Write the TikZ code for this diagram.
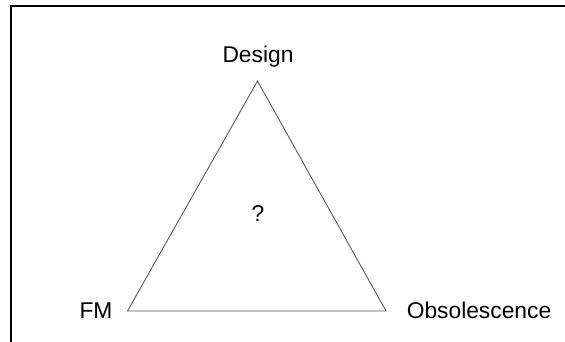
\documentclass[tikz,border=0pt]{standalone}
\usepackage{fontspec}
\setmainfont{Liberation Sans}
\begin{document}
\begin{tikzpicture}[x=1pt,y=-1pt,
  lbl/.style={font=\fontsize{22.8}{27}\selectfont, anchor=base, inner sep=0pt},
  tri/.style={draw=black!65, line width=0.9pt, line join=miter},
  frame/.style={draw=black, line width=2pt}]
\useasboundingbox (0,0) rectangle (565,342);
\coordinate (tl) at (10.5,6.5);
\coordinate (tr) at (566,6.5);
\coordinate (bl) at (10.5,343);
\draw[frame] (tr) -- (tl) -- (bl);
\coordinate (top) at (257.5,81);
\coordinate (left) at (127.5,311);
\coordinate (right) at (386,311);
\draw[tri] (top) -- (left) -- (right) -- cycle;
\node[lbl] (design) at (258,63) {Design};
\node[lbl] (fm) at (96,318.5) {FM};
\node[lbl] (obs) at (479,318.5) {Obsolescence};
\node[lbl] (q) at (258,221) {?};
\end{tikzpicture}
\end{document}
